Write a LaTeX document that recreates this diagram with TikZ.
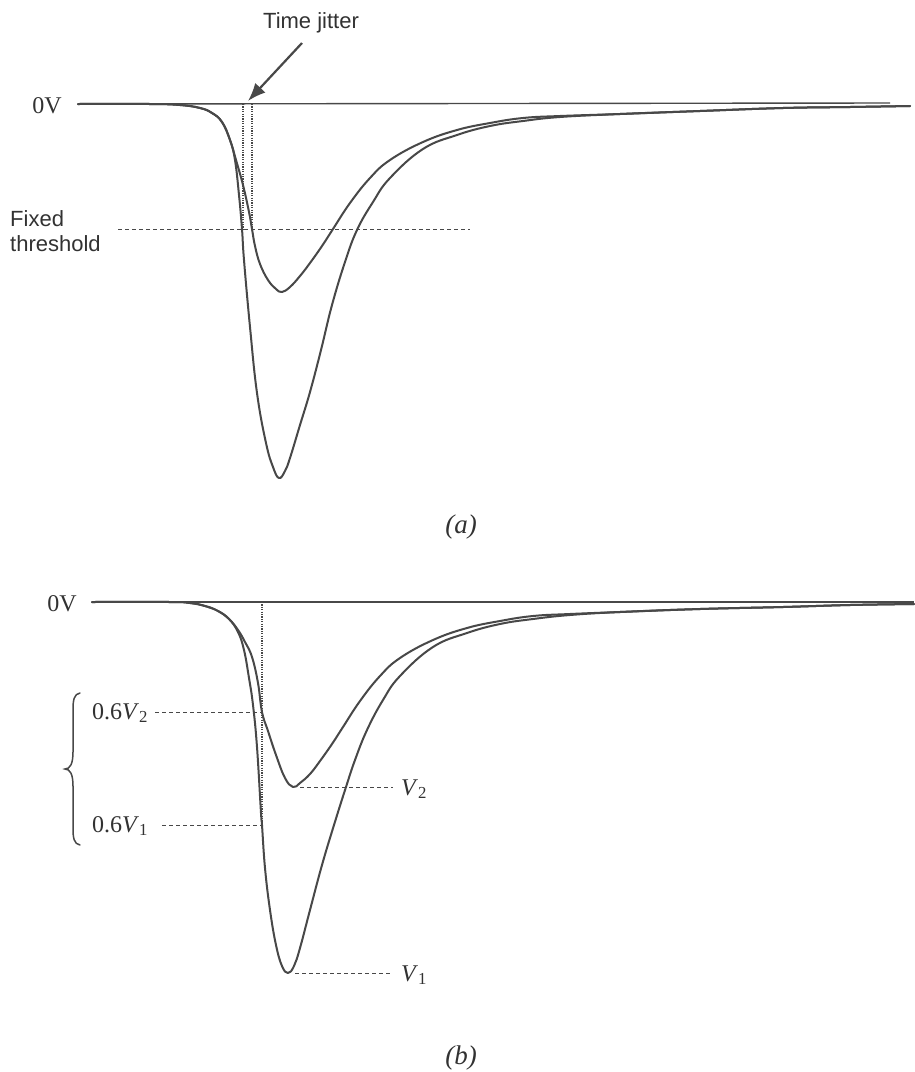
\documentclass[tikz,border=0pt]{standalone}
\usepackage{fontspec}
\setmainfont{Liberation Serif}
\newfontfamily\arialfont{Liberation Sans}
\usetikzlibrary{arrows.meta}
\definecolor{ink}{RGB}{72,72,72}
\begin{document}
\begin{tikzpicture}[x=1pt,y=-1pt,
  pulse/.style={draw=ink,line width=2pt,line join=round,line cap=round},
  baseline0/.style={draw=ink,line width=1.4pt},
  dashline/.style={draw=ink,line width=1pt,dash pattern=on 4pt off 3pt},
  dotline/.style={draw=ink,line width=1.4pt,dash pattern=on 1.2pt off 1.2pt},
  serif/.style={inner sep=0pt,font=\fontsize{24}{28}\selectfont,text=ink!70!black},
  sans/.style={inner sep=0pt,font=\arialfont\fontsize{22}{25}\selectfont,text=ink!70!black},
  captext/.style={inner sep=0pt,font=\fontsize{27}{30}\selectfont\itshape,text=ink!70!black}]
\fill[white] (0,0) rectangle (914,1072);
\useasboundingbox (0,0) rectangle (914,1072);

% ---------------- panel (a) ----------------
\node[sans] (tj) at (311,23) {Time jitter};
\coordinate (tjs) at (302,43);
\coordinate (tjt) at (248,101);
\draw[ink,line width=2.2pt,-{Latex[length=18pt,width=14pt]}] (tjs) -- (tjt);

\node[serif,anchor=east] (za) at (62,106) {0V};
\coordinate (ba0) at (78,104);
\coordinate (ba1) at (890,103);
\draw[baseline0] (ba0) -- (ba1);

\node[sans,anchor=west,align=left] (ft) at (10,231) {Fixed\\threshold};
\coordinate (th0) at (118,229);
\coordinate (th1) at (470,229);
\draw[dashline] (th0) -- (th1);

\coordinate (j1t) at (243,104);
\coordinate (j1b) at (243,229);
\coordinate (j2t) at (252,104);
\coordinate (j2b) at (252,229);
\draw[dotline] (j1t) -- (j1b);
\draw[dotline] (j2t) -- (j2b);

% big pulse (a)
\draw[pulse] plot[smooth,tension=0.7] coordinates {
 (78,104) (150,104) (180,105) (200,108) (212,113) (222,122) (230,140)
 (235,160) (239,195) (242,229) (244,260) (250,327) (257,393) (266,443)
 (273,467) (279,478) (285,471) (290,458) (300,425) (310,392) (321,350)
 (332,305) (345,262) (357,230) (373,202) (390,178) (423,149) (457,135)
 (490,126) (523,121) (560,117) (620,114) (700,111) (783,108) (850,107) (910,106)};
% small pulse (a)
\draw[pulse] plot[smooth,tension=0.7] coordinates {
 (78,104) (150,104) (180,105) (200,108) (212,113) (222,122) (230,140)
 (236,160) (243,185) (249,212) (252,229) (255,246) (260,264) (268,280)
 (276,289) (282,292) (290,287) (300,276) (310,263) (322,246) (333,229)
 (350,203) (370,178) (390,160) (423,142) (457,130) (490,123) (523,118)
 (560,116) (620,114) (700,111) (783,108) (850,107) (910,106)};

\node[captext] (capa) at (461,527) {(a)};

% ---------------- panel (b) ----------------
\node[serif,anchor=east] (zb) at (77,604) {0V};
\coordinate (bb0) at (92,602);
\coordinate (bb1) at (914,602);
\draw[baseline0] (bb0) -- (bb1);

\coordinate (cf0) at (262,602);
\coordinate (cf1) at (262,825);
\draw[dotline] (cf0) -- (cf1);

% big pulse (b)
\draw[pulse] plot[smooth,tension=0.7] coordinates {
 (92,602) (170,602) (190,603) (205,606) (218,611) (229,619) (238,632)
 (244,650) (249,678) (253,705) (257,747) (261,813) (262,825) (265,868)
 (270,910) (276,945) (282,966) (288,973) (294,966) (300,948) (310,910)
 (322,865) (334,825) (346,787) (355,760) (367,730) (383,700) (400,676)
 (433,647) (467,633) (500,624) (533,619) (570,615) (620,612) (700,609)
 (783,607) (850,605) (914,604)};
% small pulse (b)
\draw[pulse] plot[smooth,tension=0.7] coordinates {
 (92,602) (170,602) (190,603) (205,606) (218,611) (229,619) (238,630)
 (245,642) (252,657) (258,683) (262,712) (268,731) (276,755) (285,778)
 (293,787) (300,783) (310,774) (320,761) (332,744) (343,727) (360,701)
 (380,676) (400,658) (433,640) (467,628) (500,621) (533,616) (570,614)
 (620,612) (700,609) (783,607) (850,605) (914,604)};

\node[serif,anchor=west] (l62) at (92,713) {0.6\textit{V}\textsubscript{2}};
\node[serif,anchor=west] (l61) at (92,826) {0.6\textit{V}\textsubscript{1}};
\node[serif,anchor=west] (lv2) at (401,789) {\textit{V}\textsubscript{2}};
\node[serif,anchor=west] (lv1) at (401,975) {\textit{V}\textsubscript{1}};

\coordinate (p62) at (262,712);
\coordinate (p61) at (262,825);
\coordinate (pv2) at (300,787);
\coordinate (pv1) at (295,973);
\coordinate (d62) at (155,712);
\coordinate (d61) at (162,825);
\coordinate (dv2) at (393,787);
\coordinate (dv1) at (390,973);
\draw[dashline] (d62) -- (p62);
\draw[dashline] (d61) -- (p61);
\draw[dashline] (pv2) -- (dv2);
\draw[dashline] (pv1) -- (dv1);

% brace
\draw[ink,line width=1.5pt,line cap=round]
 (80,693) .. controls (74,694) and (73,700) .. (73,710) -- (73,752)
 .. controls (73,764) and (70,769) .. (65,769)
 .. controls (70,769) and (73,774) .. (73,786) -- (73,828)
 .. controls (73,838) and (74,844) .. (80,845);

\node[captext] (capb) at (461,1058) {(b)};
\end{tikzpicture}
\end{document}
